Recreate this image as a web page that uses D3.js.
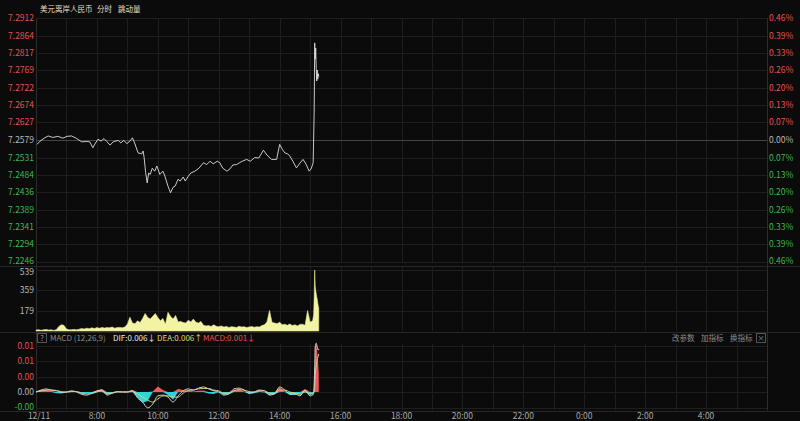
<!DOCTYPE html>
<html><head><meta charset="utf-8">
<script src="https://cdn.jsdelivr.net/npm/d3@7"></script>
<style>
html,body{margin:0;padding:0;background:#0b0b0b;}
svg{display:block;font-family:"Noto Sans CJK SC","Noto Sans",sans-serif;}
</style></head>
<body>
<svg id="chart" width="800" height="421"></svg>
<script>
// ---------- DATA ----------
const title = "美元离岸人民币";
const modeLabels = ["分时", "跳动量"];
const basePrice = 7.2579;
const priceTickLabels = ["7.2912","7.2864","7.2817","7.2769","7.2722","7.2674","7.2627","7.2579","7.2531","7.2484","7.2436","7.2389","7.2341","7.2294","7.2246"];
const pctTickLabels = ["0.46%","0.39%","0.33%","0.26%","0.20%","0.13%","0.07%","0.00%","0.07%","0.13%","0.20%","0.26%","0.33%","0.39%","0.46%"];
const timeTickLabels = ["12/11","8:00","10:00","12:00","14:00","16:00","18:00","20:00","22:00","0:00","2:00","4:00"];
const volTickValues = [539, 359, 179];
const macdTickValues = [0.012, 0.008, 0.004, 0, -0.004];
const macdTickLabels = ["0.01","0.01","0.00","0.00","-0.00"];

const priceTimes = ["06:02","06:08","06:16","06:24","06:33","06:43","06:53","07:01","07:10","07:19","07:30","07:40","07:46","07:52","07:56","08:02","08:08","08:14","08:20","08:26","08:32","08:42","08:47","08:53","08:59","09:05","09:10","09:15","09:21","09:28","09:31","09:33","09:36","09:39","09:42","09:45","09:49","09:54","09:58","10:04","10:10","10:14","10:20","10:25","10:30","10:34","10:40","10:44","10:50","10:54","11:00","11:05","11:13","11:21","11:30","11:36","11:43","11:49","11:57","12:02","12:08","12:16","12:22","12:28","12:35","12:40","12:46","12:55","13:02","13:11","13:19","13:28","13:35","13:44","13:54","14:00","14:05","14:10","14:16","14:20","14:26","14:33","14:40","14:46","14:52","14:58","15:02","15:06","15:08","15:09","15:10","15:11","15:12","15:13","15:14","15:15","15:16","15:17"];
const priceValues = [7.2567,7.2576,7.2584,7.2590,7.2586,7.2589,7.2584,7.2589,7.2590,7.2584,7.2574,7.2575,7.2574,7.2558,7.2568,7.2581,7.2576,7.2583,7.2574,7.2565,7.2574,7.2578,7.2571,7.2578,7.2569,7.2576,7.2585,7.2568,7.2544,7.2541,7.2549,7.2531,7.2490,7.2462,7.2489,7.2485,7.2502,7.2494,7.2508,7.2485,7.2494,7.2480,7.2453,7.2435,7.2450,7.2453,7.2472,7.2467,7.2478,7.2467,7.2480,7.2489,7.2494,7.2502,7.2517,7.2512,7.2521,7.2514,7.2521,7.2517,7.2502,7.2494,7.2500,7.2511,7.2512,7.2516,7.2521,7.2526,7.2521,7.2531,7.2530,7.2551,7.2538,7.2526,7.2526,7.2567,7.2554,7.2544,7.2541,7.2535,7.2521,7.2503,7.2516,7.2526,7.2513,7.2494,7.2500,7.2517,7.2658,7.2844,7.2800,7.2830,7.2775,7.2740,7.2770,7.2745,7.2760,7.2752];

// volume: one value every 5 minutes from 06:00 to 15:05
const volStart = "06:00";
const volStepMin = 5;
const volValues = [8,12,6,10,14,8,10,5,12,40,55,50, 18,10,12,14,10,16,22,18,25,20,28,22, 30,24,32,26,30,28,35,25,30,32,28,35, 60,122,70,65,90,75,110,155,120,105,130,155, 120,90,110,60,165,130,105,137,80,85,75,70, 95,80,105,78,70,85,50,45,48,40,55,42, 38,45,35,40,32,38,35,30,42,35,38,30, 36,40,33,38,35,48,55,80,181,75,70,65, 78,55,60,50,62,48,55,45,58,60,50,181, 78,90];
const volTailTimes = ["15:07","15:08","15:09","15:10","15:11","15:12","15:13","15:14","15:15","15:16","15:17"];
const volTailValues = [150,300,539,400,360,330,300,280,250,220,200];

// MACD: one value every 10 minutes from 06:00 to 15:00
const macdStart = "06:00";
const macdStepMin = 10;
const histValues = [0.0001,0.0005,0.0006,0.0003,-0.0003,-0.0004,-0.0001,0.0003,0.0001,-0.0004,-0.0004,-0.0003,0.0004,0.0008,-0.0007,-0.0003,0.0001,0.0001,0.0001,0.0005,-0.0015,-0.0028,-0.0023,0.0001,0.0014,0.0005,-0.0008,-0.002,0.0008,0.0005,0.0004,0.0001,0.0003,0.0004,-0.0004,-0.0005,0,-0.0008,-0.0006,0.0005,0.0008,0.0001,-0.0005,-0.0003,0.0003,-0.0001,-0.0008,-0.0005,0.0012,0.0001,-0.0008,-0.0008,-0.0005,0.0008,-0.0008];
const difValues = [0,0.0005,0.0008,0.0005,0.0003,-0.0001,0,0.0003,0,-0.0006,-0.0008,-0.0003,0.0003,0.0005,-0.0008,-0.0003,0.0001,0,0,0.0004,-0.0015,-0.0026,-0.0041,-0.0031,-0.001,-0.0008,-0.0013,-0.0026,-0.001,0.0003,0.0008,0.0005,0.001,0.0013,0.0008,0.0003,0,-0.0008,-0.0005,0.0008,0.001,0.0005,-0.0003,0,0.0005,0.0003,-0.0008,-0.0005,0.0013,0.0005,-0.0005,-0.0005,-0.001,0.0005,-0.001];
const deaValues = [0,0.0003,0.0005,0.0005,0.0004,0.0001,0,0.0001,0.0001,-0.0003,-0.0005,-0.0004,0,0.0003,-0.0003,-0.0003,0,0,0,0.0001,-0.0005,-0.0013,-0.0021,-0.0026,-0.0018,-0.001,-0.001,-0.0013,-0.0013,-0.0003,0.0004,0.0005,0.0008,0.0009,0.0009,0.0005,0.0003,-0.0003,-0.0003,0.0003,0.0006,0.0005,0.0001,0,0.0003,0.0003,-0.0003,-0.0004,0.0005,0.0005,0,-0.0003,-0.0006,0,-0.0004];
const macdTailTimes = ["15:05","15:07","15:09","15:10","15:12","15:14","15:16","15:17"];
const histTail = [-0.0005,0,0.0052,0.0116,0.0124,0.0103,0.0072,0.0046];
const difTail = [-0.0008,0,0.0065,0.0116,0.0126,0.0116,0.0108,0.0111];
const deaTail = [-0.0005,-0.0003,0.0013,0.0039,0.0065,0.0083,0.0093,0.0098];

const macdHeader = [
  {t:"MACD (12,26,9)", c:"#8a8a8a"},
  {t:"DIF:0.006↓", c:"#e6e6e6"},
  {t:"DEA:0.006↑", c:"#e3d86a"},
  {t:"MACD:0.001↓", c:"#f05050"}
];
const toolLabels = ["改参数","加指标","换指标"];

// ---------- HELPERS ----------
const toMin = s => { const [h,m] = s.split(":").map(Number); let v=(h-6)*60+m; if (v<0) v+=1440; return v; };

// ---------- LAYOUT ----------
const L = 36, R = 767;
const P = {top:18, bottom:262};
const V = {top:270, bottom:331};
const M = {top:345.5, bottom:407.5};
const FS = 8.5, CJK = 7.5;

const RED = "#e5504f", GREEN = "#3cb850", GREY = "#b8b8b8";
const GRID = "#1e1e1e";

const svg = d3.select("#chart");
svg.append("rect").attr("width",800).attr("height",421).attr("fill","#0b0b0b");

const x = d3.scaleLinear().domain([0,1440]).range([L,R]);
const yP = d3.scaleLinear().domain([+priceTickLabels[priceTickLabels.length-1], +priceTickLabels[0]]).range([P.bottom,P.top]);
const yV = d3.scaleLinear().domain([0, volTickValues[0]]).range([V.bottom, V.top]);
const yM = d3.scaleLinear().domain([macdTickValues[macdTickValues.length-1], macdTickValues[0]]).range([M.bottom, M.top]);

// vertical grid (every hour)
const hourTicks = d3.range(0, 1441, 60);
const g = svg.append("g");
[[P.top, P.bottom],[V.top-4, V.bottom],[M.top-2, M.bottom+3]].forEach(([a,b])=>{
  g.selectAll(null).data(hourTicks).join("line")
    .attr("x1",d=>Math.round(x(d))+0.5).attr("x2",d=>Math.round(x(d))+0.5)
    .attr("y1",a).attr("y2",b).attr("stroke",GRID);
});
// panel separators
[266, V.bottom+0.5, M.bottom+3.5].forEach(yy=>{
  g.append("line").attr("x1",0).attr("x2",800).attr("y1",Math.round(yy)+0.5).attr("y2",Math.round(yy)+0.5).attr("stroke","#262626");
});
g.append("line").attr("x1",L+0.5).attr("x2",L+0.5).attr("y1",P.top).attr("y2",M.bottom+3).attr("stroke","#2c2c2c");
g.append("line").attr("x1",R+0.5).attr("x2",R+0.5).attr("y1",P.top).attr("y2",M.bottom+3).attr("stroke","#2c2c2c");

// price horizontal grid + labels
priceTickLabels.forEach((lab,i)=>{
  const v = +lab, yy = Math.round(yP(v))+0.5;
  const isBase = Math.abs(v-basePrice)<1e-6;
  g.append("line").attr("x1",L).attr("x2",R).attr("y1",yy).attr("y2",yy)
    .attr("stroke", isBase ? "#444" : GRID);
  const col = isBase ? GREY : (v>basePrice ? RED : GREEN);
  const ly = i===priceTickLabels.length-1 ? yy-1.5 : yy;
  svg.append("text").attr("x",34).attr("y",ly).attr("dy","0.35em").attr("text-anchor","end")
    .attr("font-size",FS).attr("fill",col).text(lab);
  svg.append("text").attr("x",769).attr("y",ly).attr("dy","0.35em").attr("text-anchor","start")
    .attr("font-size",FS).attr("fill",col).text(pctTickLabels[i]);
});

// volume grid + labels
volTickValues.forEach((v,i)=>{
  const yy = Math.round(yV(v))+0.5;
  g.append("line").attr("x1",L).attr("x2",R).attr("y1",yy).attr("y2",yy).attr("stroke",GRID);
  svg.append("text").attr("x",34).attr("y",i===0 ? yy+1.5 : yy).attr("dy","0.35em").attr("text-anchor","end")
    .attr("font-size",FS).attr("fill",GREY).text(v);
});

// macd grid + labels
macdTickValues.forEach((v,i)=>{
  const yy = Math.round(yM(v))+0.5;
  g.append("line").attr("x1",L).attr("x2",R).attr("y1",yy).attr("y2",yy).attr("stroke",GRID);
  const col = v>0 ? RED : (v<0 ? GREEN : GREY);
  const ly = i===macdTickValues.length-1 ? yy-1.5 : yy;
  svg.append("text").attr("x",34).attr("y",ly).attr("dy","0.35em").attr("text-anchor","end")
    .attr("font-size",FS).attr("fill",col).text(macdTickLabels[i]);
});

// time labels
timeTickLabels.forEach((lab,i)=>{
  const m = i*120;
  svg.append("text").attr("x", i===0 ? x(m)+3 : x(m)).attr("y",416.5).attr("dy","0.35em")
    .attr("text-anchor","middle")
    .attr("font-size",FS).attr("fill","#a8a8a8").text(lab);
});

// ---------- VOLUME ----------
const volData = volValues.map((v,i)=>({m: toMin(volStart)+i*volStepMin, v}))
  .concat(volTailTimes.map((t,i)=>({m: toMin(t), v: volTailValues[i]})));
svg.append("path").datum(volData)
  .attr("d", d3.area().x(d=>x(d.m)).y0(V.bottom).y1(d=>yV(d.v)))
  .attr("fill","#f3f3a4").attr("stroke","#e8e896").attr("stroke-width",0.6);

// ---------- PRICE ----------
const priceData = priceTimes.map((t,i)=>({m: toMin(t), v: priceValues[i]}));
svg.append("path").datum(priceData)
  .attr("d", d3.line().x(d=>x(d.m)).y(d=>yP(d.v)))
  .attr("fill","none").attr("stroke","#dcdcdc").attr("stroke-width",0.9);

// ---------- MACD ----------
const mData = histValues.map((v,i)=>({m: toMin(macdStart)+i*macdStepMin, h:v, dif:difValues[i], dea:deaValues[i]}))
  .concat(macdTailTimes.map((t,i)=>({m: toMin(t), h:histTail[i], dif:difTail[i], dea:deaTail[i]})));
svg.append("path").datum(mData)
  .attr("d", d3.area().x(d=>x(d.m)).y0(yM(0)).y1(d=>yM(Math.max(0,d.h))))
  .attr("fill","#f05a5a");
svg.append("path").datum(mData)
  .attr("d", d3.area().x(d=>x(d.m)).y0(yM(0)).y1(d=>yM(Math.min(0,d.h))))
  .attr("fill","#2dd4dc");
svg.append("path").datum(mData)
  .attr("d", d3.line().x(d=>x(d.m)).y(d=>yM(d.dea)).curve(d3.curveMonotoneX))
  .attr("fill","none").attr("stroke","#d9cf72").attr("stroke-width",1);
svg.append("path").datum(mData)
  .attr("d", d3.line().x(d=>x(d.m)).y(d=>yM(d.dif)).curve(d3.curveMonotoneX))
  .attr("fill","none").attr("stroke","#cfcfcf").attr("stroke-width",1);

// ---------- HEADERS ----------
svg.append("text").attr("x",40).attr("y",9).attr("dy","0.35em").attr("font-size",CJK)
  .attr("fill","#e6dfc0").text(title);
svg.append("text").attr("x",97).attr("y",9).attr("dy","0.35em").attr("font-size",CJK)
  .attr("fill","#e6dfc0").text(modeLabels[0]);
svg.append("text").attr("x",118).attr("y",9).attr("dy","0.35em").attr("font-size",CJK)
  .attr("fill","#e6dfc0").text(modeLabels[1]);

// MACD header row
svg.append("rect").attr("x",37.5).attr("y",333.5).attr("width",9).attr("height",9)
  .attr("fill","none").attr("stroke","#555");
svg.append("text").attr("x",42).attr("y",338).attr("dy","0.35em").attr("text-anchor","middle")
  .attr("font-size",7.5).attr("fill","#999").text("?");
const hx = [50, 113, 157, 203];
macdHeader.forEach((h,i)=>{
  svg.append("text").attr("x",hx[i]).attr("y",338).attr("dy","0.35em").attr("font-size",8)
    .attr("fill",h.c).text(h.t);
});
const tx = [672, 701, 730];
toolLabels.forEach((t,i)=>{
  svg.append("text").attr("x",tx[i]).attr("y",338).attr("dy","0.35em").attr("font-size",CJK)
    .attr("fill","#8c8c8c").text(t);
});
svg.append("rect").attr("x",756.5).attr("y",333.5).attr("width",9).attr("height",9)
  .attr("fill","none").attr("stroke","#555");
svg.append("text").attr("x",761).attr("y",338).attr("dy","0.35em").attr("text-anchor","middle")
  .attr("font-size",7.5).attr("fill","#888").text("×");
</script>
</body></html>
